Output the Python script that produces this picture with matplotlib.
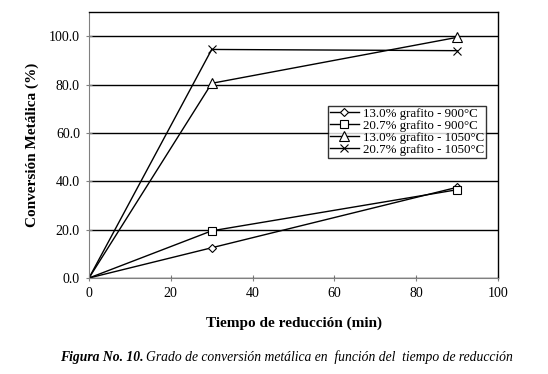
import matplotlib
matplotlib.use('Agg')
import matplotlib.pyplot as plt

plt.rcParams['font.family'] = ['Liberation Serif', 'DejaVu Serif']

tiempo = [0, 30, 90]
s_13_900 = [0, 12.5, 37.5]
s_207_900 = [0, 19.5, 36.5]
s_13_1050 = [0, 80.5, 99.5]
s_207_1050 = [0, 94.5, 94.0]

series = [
  ('13.0% grafito - 900°C', s_13_900, 'D', 4.5),
  ('20.7% grafito - 900°C', s_207_900, 's', 6),
  ('13.0% grafito - 1050°C', s_13_1050, '^', 6.5),
  ('20.7% grafito - 1050°C', s_207_1050, 'x', 6),
]
yticks = [0, 20, 40, 60, 80, 100]
xticks = [0, 20, 40, 60, 80, 100]

fig = plt.figure(figsize=(5.48, 3.74), dpi=100)
ax = fig.add_axes([0.1624, 0.2567, 0.7464, 0.7113])

for label, vals, mk, ms in series:
  ax.plot(tiempo, vals, color='black', lw=1.0, marker=mk, markersize=ms, markevery=[1, 2],
          markerfacecolor='white', markeredgecolor='black', markeredgewidth=0.8, label=label)

ax.set_xlim(0, 100)
ax.set_ylim(0, 110)
ax.set_xticks(xticks)
ax.set_yticks(yticks)
ax.set_yticklabels([f'{v:.1f}' for v in yticks], fontsize=10)
ax.set_xticklabels([str(v) for v in xticks], fontsize=10)
ax.yaxis.grid(True, color='black', lw=1.0)
ax.set_axisbelow(True)
ax.tick_params(direction='inout', length=5, width=0.8, color='gray', pad=4)
for s in ['left', 'bottom']:
  ax.spines[s].set_color('gray')
for s in ['top', 'right']:
  ax.spines[s].set_color('black')
  ax.spines[s].set_linewidth(1.0)

ax.set_xlabel('Tiempo de reducción (min)', fontweight='bold', fontsize=11, labelpad=12)
ax.set_ylabel('Conversión Metálica (%)', fontweight='bold', fontsize=11, labelpad=7)

leg = ax.legend(loc='upper left', bbox_to_anchor=(0.585, 0.647), fontsize=9.3, frameon=True,
                fancybox=False, edgecolor='black', handlelength=2.2, borderpad=0.15,
                labelspacing=0.0, handletextpad=0.3, borderaxespad=0)
leg.get_frame().set_linewidth(1.0)

fig.text(0.11, 0.035, 'Figura No. 10.', fontweight='bold', style='italic', fontsize=9.8)
fig.text(0.266, 0.035, 'Grado de conversión metálica en  función del  tiempo de reducción',
         style='italic', fontsize=9.8)

fig.savefig('out.png', dpi=100)
